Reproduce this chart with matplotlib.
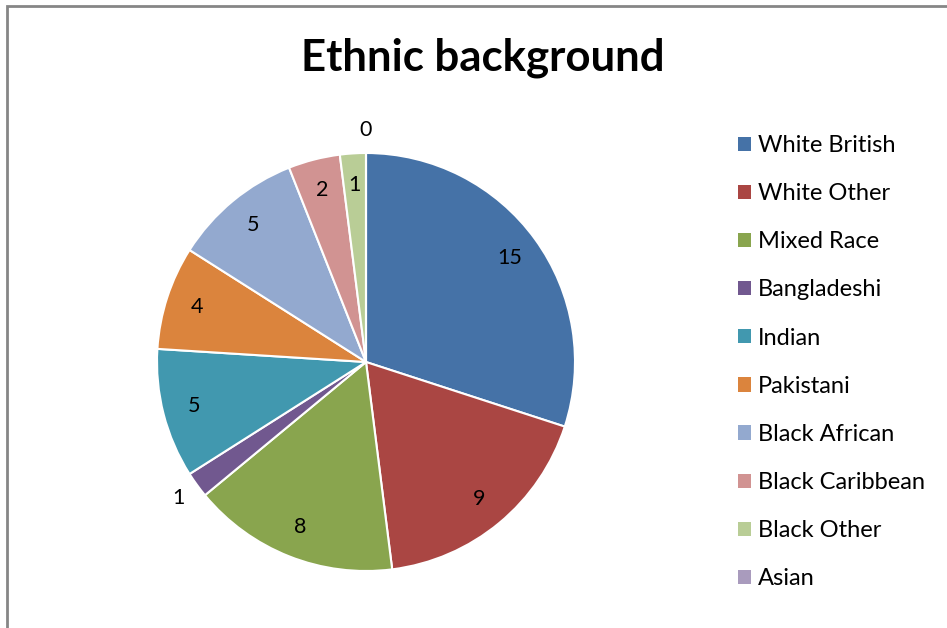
import matplotlib
matplotlib.use("Agg")
import matplotlib.pyplot as plt
import numpy as np
from matplotlib.patches import Patch, Rectangle

plt.rcParams['font.family'] = ['Lato', 'DejaVu Sans']

title = "Ethnic background"
categories = ["White British", "White Other", "Mixed Race", "Bangladeshi", "Indian",
              "Pakistani", "Black African", "Black Caribbean", "Black Other", "Asian"]
values = [15, 9, 8, 1, 5, 4, 5, 2, 1, 0]
colors = ["#4572A7", "#AA4643", "#89A54E", "#71588F", "#4198AF",
          "#DB843D", "#93A9CF", "#D19392", "#B9CD96", "#A99BBD"]
outside_labels = {"Bangladeshi", "Asian"}

W, H = 947, 628
fig = plt.figure(figsize=(W / 100, H / 100), dpi=100)

# chart border
fig.patches.append(Rectangle((7 / W, -0.05), 1.1, 1 - 6 / H + 0.05, transform=fig.transFigure,
                             fill=False, edgecolor="#868686", linewidth=2))

cx, cy, R = 366, 362, 209
ax = fig.add_axes([(cx - R) / W, (H - cy - R) / H, 2 * R / W, 2 * R / H])
wedges, _ = ax.pie(values, colors=colors, startangle=90, counterclock=False,
                   wedgeprops=dict(edgecolor="white", linewidth=1.5))
ax.set_xlim(-1, 1)
ax.set_ylim(-1, 1)
ax.set_aspect("equal")
ax.axis("off")

for w, v, c in zip(wedges, values, categories):
    ang = np.deg2rad((w.theta1 + w.theta2) / 2)
    d = 1.11 if c in outside_labels else 0.85
    ax.text(d * np.cos(ang), d * np.sin(ang), str(v), ha="center", va="center",
            fontsize=15.5, color="black", clip_on=False)

fig.text(483 / W, 1 - 58 / H, title, ha="center", va="center",
         fontsize=31.5, fontweight="bold")

handles = [Patch(facecolor=c, edgecolor="none") for c in colors]
fig.legend(handles, categories, loc="upper left", bbox_to_anchor=(738 / W, 1 - 135 / H),
           frameon=False, fontsize=17, handlelength=0.55, handleheight=0.55,
           handletextpad=0.3, labelspacing=1.15, borderaxespad=0, borderpad=0)

fig.savefig("out.png", dpi=100)
